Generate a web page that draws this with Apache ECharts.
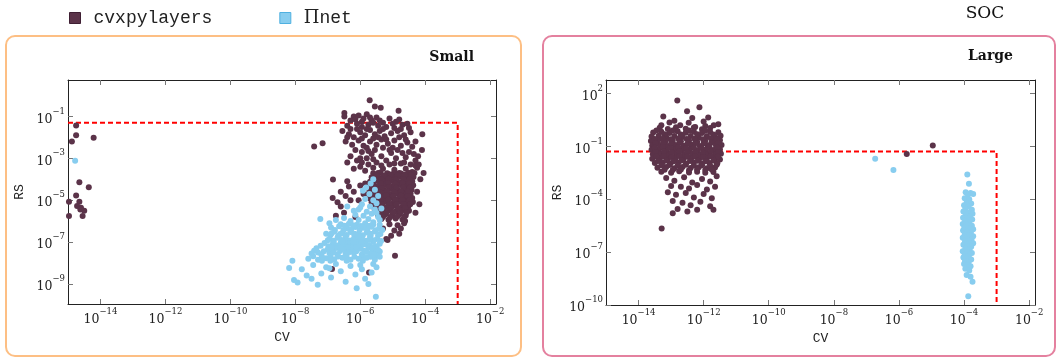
<!DOCTYPE html>
<html><head><meta charset="utf-8">
<script src="https://cdn.jsdelivr.net/npm/echarts@6/dist/echarts.min.js"></script>
<style>html,body{margin:0;padding:0;background:#fff}#c{width:1058px;height:358px}</style>
</head><body><div id="c"></div>
<script>
// All points are [log10(CV), log10(RS)]
const xTickExps = [-14, -12, -10, -8, -6, -4, -2];
const smallYTickExps = [-9, -7, -5, -3, -1];
const largeYTickExps = [-10, -7, -4, -1, 2];
const thresholdCV = 1e-3;
const thresholdRS = 0.05;
const seriesNames = ['cvxpylayers', 'Πnet'];
const panelTitles = ['Small', 'Large'];
const figTitle = 'SOC';

const smallDark = [
[-14.88,-2.2],[-14.75,-1.9],[-14.75,-1.43],[-14.21,-2.02],[-14.65,-4.14],[-14.36,-4.38],[-14.75,-4.78],[-14.97,-5.07],[-14.65,-5.07],[-14.72,-5.28],[-14.6,-5.36],[-14.5,-5.5],[-14.55,-5.76],[-14.97,-5.76],[-14.62,-5.45],
[-7.42,-2.44],[-7.16,-2.28],[-6.84,-4.01],[-4.09,-1.85],[-4.82,-0.73],[-5.37,-0.58],[-5.55,-0.52],[-6.49,-0.84],[-6.49,-1.0],[-5.71,-0.23],[-4.93,-7.65],[-6.87,-8.29],[-5.16,-6.9],[-5.73,-8.45],
[-6.2,-1.0],[-6.05,-0.95],[-5.9,-1.1],[-5.8,-0.9],[-5.65,-1.2],[-5.5,-1.05],[-5.3,-1.3],[-5.1,-1.1],[-4.9,-1.25],[-4.7,-1.4],[-4.55,-1.35],[-6.4,-1.45],[-6.1,-1.35],[-5.95,-1.5],[-5.75,-1.4],[-5.45,-1.45],[-5.2,-1.5],[-4.95,-1.55],[-6.3,-1.2],[-5.6,-1.3],
[-6.55,-1.7],[-6.35,-1.85],[-6.2,-2.0],[-6.0,-1.75],[-5.85,-1.9],[-5.7,-1.65],[-5.55,-1.85],[-5.4,-1.7],[-5.25,-1.95],[-5.05,-1.8],[-4.85,-1.7],[-4.65,-1.9],[-4.45,-1.75],[-6.45,-2.2],[-6.25,-2.35],[-6.05,-2.15],[-5.9,-2.4],[-5.7,-2.2],[-5.5,-2.35],[-5.35,-2.1],[-5.15,-2.3],[-4.95,-2.15],[-4.75,-2.4],[-4.55,-2.25],[-4.4,-2.45],[-6.1,-1.6],[-5.6,-2.05],[-5.0,-2.5],[-5.8,-2.5],[-4.6,-2.1],
[-6.3,-2.9],[-6.1,-3.1],[-5.95,-2.7],[-5.8,-3.0],[-5.65,-2.8],[-5.5,-3.2],[-5.35,-2.9],[-5.2,-3.1],[-5.05,-2.75],[-4.9,-3.0],[-4.75,-3.25],[-4.6,-2.95],[-4.45,-3.3],[-4.3,-3.1],[-6.2,-3.5],[-6.0,-3.4],[-5.85,-3.6],[-5.6,-3.45],[-5.45,-3.7],[-5.3,-3.5],[-5.15,-3.75],[-4.95,-3.55],[-4.8,-3.7],[-4.6,-3.5],[-4.4,-3.65],[-4.25,-3.45],[-5.55,-2.6],[-5.1,-2.6],[-4.5,-2.7],[-6.4,-3.2],
[-6.15,-1.15],[-5.95,-1.25],[-5.7,-1.05],[-5.4,-1.2],[-5.0,-1.35],[-4.8,-1.15],[-6.3,-1.6],[-5.8,-1.6],[-5.3,-1.6],[-4.75,-1.6],[-4.5,-1.55],[-6.4,-2.0],[-5.95,-2.05],[-5.45,-2.0],[-5.2,-2.1],[-4.8,-2.0],[-4.3,-2.2],[-6.15,-2.6],[-5.75,-2.65],[-5.3,-2.5],[-4.85,-2.6],[-4.35,-2.8],[-6.0,-3.0],[-5.6,-3.05],[-5.1,-3.3],[-4.65,-3.2],[-4.3,-3.35],[-5.75,-3.3],[-5.35,-3.35],[-4.95,-3.25],[-4.7,-2.75],[-5.95,-3.2],
[-4.2,-3.3],[-4.15,-4.0],[-4.25,-4.6],[-4.18,-5.2],[-4.3,-5.6],[-4.05,-3.7],[-4.22,-2.9],[-4.1,-2.6],
[-5.6,-3.72],[-5.38,-3.68],[-5.17,-3.71],[-4.95,-3.67],[-4.74,-3.73],[-4.52,-3.69],[-4.33,-3.7],
[-5.65,-3.9],[-5.42,-3.93],[-5.2,-3.88],[-4.98,-3.92],[-4.77,-3.87],[-4.55,-3.91],[-4.36,-3.89],
[-5.7,-4.12],[-5.47,-4.08],[-5.25,-4.11],[-5.03,-4.07],[-4.81,-4.13],[-4.6,-4.09],[-4.4,-4.1],
[-5.68,-4.3],[-5.45,-4.33],[-5.23,-4.28],[-5.0,-4.32],[-4.78,-4.27],[-4.57,-4.31],[-4.37,-4.29],
[-5.72,-4.52],[-5.5,-4.48],[-5.28,-4.51],[-5.05,-4.47],[-4.83,-4.53],[-4.62,-4.49],[-4.42,-4.5],
[-5.75,-4.7],[-5.52,-4.73],[-5.3,-4.68],[-5.08,-4.72],[-4.86,-4.67],[-4.64,-4.71],[-4.45,-4.69],
[-5.7,-4.92],[-5.48,-4.88],[-5.26,-4.91],[-5.04,-4.87],[-4.82,-4.93],[-4.6,-4.89],[-4.4,-4.9],
[-5.65,-5.1],[-5.43,-5.13],[-5.21,-5.08],[-4.99,-5.12],[-4.77,-5.07],[-4.56,-5.11],[-4.38,-5.09],
[-5.6,-5.32],[-5.38,-5.28],[-5.16,-5.31],[-4.94,-5.27],[-4.72,-5.33],[-4.52,-5.29],
[-5.55,-5.5],[-5.33,-5.53],[-5.11,-5.48],[-4.89,-5.52],[-4.68,-5.47],[-4.5,-5.51],
[-5.45,-5.72],[-5.24,-5.68],[-5.02,-5.71],[-4.8,-5.67],[-4.6,-5.73],
[-5.35,-5.9],[-5.13,-5.93],[-4.91,-5.88],[-4.7,-5.92],
[-5.5,-3.8],[-5.28,-3.82],[-5.06,-3.78],[-4.85,-3.81],[-4.63,-3.79],[-4.43,-3.8],
[-5.58,-4.0],[-5.35,-4.02],[-5.13,-3.98],[-4.9,-4.01],[-4.68,-3.99],[-4.48,-4.0],
[-5.6,-4.2],[-5.36,-4.22],[-5.14,-4.18],[-4.92,-4.21],[-4.7,-4.19],[-4.5,-4.2],
[-5.58,-4.4],[-5.34,-4.42],[-5.12,-4.38],[-4.9,-4.41],[-4.68,-4.39],[-4.47,-4.4],
[-5.62,-4.6],[-5.4,-4.62],[-5.18,-4.58],[-4.95,-4.61],[-4.74,-4.59],[-4.53,-4.6],
[-5.64,-4.8],[-5.42,-4.82],[-5.2,-4.78],[-4.97,-4.81],[-4.75,-4.79],[-4.54,-4.8],
[-5.58,-5.0],[-5.36,-5.02],[-5.14,-4.98],[-4.92,-5.01],[-4.7,-4.99],[-4.48,-5.0],
[-5.54,-5.2],[-5.32,-5.22],[-5.1,-5.18],[-4.88,-5.21],[-4.66,-5.19],[-4.46,-5.2],
[-5.5,-5.4],[-5.27,-5.42],[-5.05,-5.38],[-4.83,-5.41],[-4.62,-5.39],
[-5.4,-5.6],[-5.2,-5.62],[-4.98,-5.58],[-4.77,-5.61],[-4.58,-5.59],
[-5.3,-5.8],[-5.08,-5.82],[-4.86,-5.78],[-4.65,-5.81],
[-5.1,-6.15],[-4.85,-6.2],[-4.65,-6.1],[-5.3,-6.35],[-4.95,-6.45],[-4.75,-6.35],[-5.05,-6.7],[-4.8,-6.6],[-5.2,-6.85],[-4.62,-6.0],
[-6.85,-4.9],[-6.6,-5.3],[-6.75,-5.75],[-6.45,-4.8],[-6.3,-5.0],[-6.5,-5.6],[-6.2,-4.6],[-6.35,-4.35],[-6.6,-4.6],[-6.15,-5.8],[-6.7,-5.1],[-6.4,-4.1],[-6.0,-4.3],[-5.9,-4.7],[-6.05,-5.0],[-5.85,-4.2]
];

const smallBlue = [
[-14.78,-3.12],
[-5.6,-4.0],[-5.68,-4.2],[-5.82,-4.4],[-5.92,-4.55],[-5.55,-4.5],[-5.72,-4.7],[-5.45,-4.8],[-5.85,-4.95],[-5.6,-5.0],[-5.95,-5.2],[-5.7,-5.3],[-5.5,-5.15],[-6.05,-5.45],[-5.8,-5.55],[-5.55,-5.45],[-6.15,-5.7],[-5.9,-5.75],[-5.65,-5.65],[-5.45,-5.8],
[-6.4,-5.3],[-6.2,-5.5],[-6.0,-5.35],[-5.75,-5.9],[-5.5,-5.6],[-6.5,-5.85],[-6.3,-6.0],[-6.05,-5.95],[-5.85,-6.1],[-5.6,-6.05],[-5.4,-5.95],[-6.75,-5.95],[-7.23,-5.9],[-6.95,-6.1],[-5.35,-5.4],
[-6.6,-6.15],[-6.35,-6.13],[-6.1,-6.17],[-5.85,-6.2],[-5.6,-6.16],[-5.4,-6.18],
[-6.9,-6.3],[-6.65,-6.25],[-6.4,-6.35],[-6.15,-6.28],[-5.9,-6.32],[-5.65,-6.27],[-5.42,-6.35],
[-6.78,-6.42],[-6.52,-6.44],[-6.28,-6.4],[-6.02,-6.43],[-5.78,-6.41],[-5.52,-6.44],[-5.32,-6.42],
[-7.05,-6.6],[-6.8,-6.5],[-6.55,-6.58],[-6.3,-6.52],[-6.05,-6.6],[-5.8,-6.55],[-5.55,-6.5],[-5.38,-6.62],
[-6.92,-6.68],[-6.68,-6.7],[-6.42,-6.66],[-6.18,-6.69],[-5.92,-6.67],[-5.68,-6.7],[-5.45,-6.68],
[-6.95,-6.85],[-6.7,-6.8],[-6.45,-6.78],[-6.2,-6.85],[-5.95,-6.8],[-5.7,-6.75],[-5.48,-6.85],
[-7.0,-6.92],[-6.82,-6.94],[-6.58,-6.9],[-6.32,-6.93],[-6.08,-6.91],[-5.82,-6.94],[-5.58,-6.92],[-5.36,-6.95],
[-7.1,-7.05],[-6.85,-7.1],[-6.6,-7.02],[-6.35,-7.08],[-6.1,-7.03],[-5.85,-7.1],[-5.6,-7.0],[-5.4,-7.08],
[-7.22,-7.18],[-6.98,-7.2],[-6.72,-7.16],[-6.48,-7.19],[-6.22,-7.17],[-5.98,-7.2],[-5.72,-7.18],[-5.5,-7.2],
[-7.35,-7.3],[-7.0,-7.35],[-6.75,-7.28],[-6.5,-7.33],[-6.25,-7.27],[-6.0,-7.32],[-5.75,-7.28],[-5.5,-7.35],
[-7.42,-7.42],[-7.12,-7.44],[-6.88,-7.4],[-6.62,-7.43],[-6.38,-7.41],[-6.12,-7.44],[-5.88,-7.42],[-5.62,-7.43],[-5.4,-7.45],
[-7.5,-7.55],[-7.2,-7.6],[-6.95,-7.52],[-6.7,-7.58],[-6.45,-7.55],[-6.2,-7.5],[-5.95,-7.6],[-5.7,-7.55],[-5.45,-7.5],
[-7.45,-7.68],[-7.18,-7.7],[-6.92,-7.66],[-6.68,-7.69],[-6.42,-7.67],[-6.18,-7.7],[-5.92,-7.68],[-5.68,-7.7],[-5.5,-7.66],
[-7.6,-7.8],[-7.3,-7.85],[-7.05,-7.78],[-6.8,-7.82],[-6.55,-7.75],[-6.3,-7.85],[-6.05,-7.8],[-5.8,-7.75],[-5.55,-7.85],[-5.4,-7.7],
[-6.48,-6.22],[-6.22,-6.2],[-5.98,-6.24],[-5.72,-6.22],[-6.88,-6.58],[-6.62,-6.62],[-6.18,-6.6],[-5.68,-6.6],[-6.82,-7.0],[-6.48,-7.0],[-6.22,-7.0],[-5.95,-7.0],[-5.72,-6.9],[-6.88,-7.26],[-6.62,-7.26],[-6.38,-7.25],[-6.12,-7.25],[-5.62,-7.26],[-7.3,-7.5],[-6.82,-7.5],[-6.32,-7.48],[-5.82,-7.48],[-5.58,-7.6],[-7.18,-7.9],[-6.92,-7.9],[-6.42,-7.9],[-5.92,-7.9],[-5.45,-7.38],[-6.55,-6.95],[-6.05,-6.72],
[-8.19,-8.24],[-8.09,-7.89],[-8.04,-8.81],[-7.93,-8.93],[-7.8,-8.3],[-7.65,-8.6],[-7.45,-8.1],[-7.31,-9.04],[-7.2,-8.5],[-7.05,-8.2],[-6.9,-8.7],[-6.75,-8.05],[-6.6,-8.4],[-6.45,-8.9],[-6.3,-8.15],[-6.15,-8.55],[-6.11,-9.21],[-5.95,-8.3],[-5.85,-8.75],[-5.75,-9.0],[-5.65,-8.45],[-5.52,-9.61],[-5.5,-8.2],[-7.5,-8.75],[-6.95,-8.25],[-6.0,-8.1],[-5.6,-8.05]
];

const largeDark = [
[-4.96,-0.95],[-5.76,-1.43],
[-12.81,1.6],[-12.13,1.22],[-13.24,0.69],[-12.51,0.99],[-11.86,0.63],[-12.46,0.34],[-12.72,0.19],[-12.26,0.09],[-11.69,0.19],[-13.05,0.35],[-12.9,0.45],[-12.0,0.4],[-12.35,0.6],[-11.55,0.25],[-13.3,0.2],[-11.95,0.15],
[-13.35,0.05],[-13.1,-0.02],[-12.85,0.08],[-12.55,0.0],[-12.3,0.06],[-12.05,-0.03],[-11.8,0.04],
[-13.55,-0.22],[-13.3,-0.18],[-13.05,-0.25],[-12.8,-0.15],[-12.55,-0.23],[-12.3,-0.17],[-12.05,-0.24],[-11.8,-0.19],[-11.55,-0.21],
[-13.6,-0.45],[-13.38,-0.4],[-13.15,-0.48],[-12.9,-0.42],[-12.65,-0.47],[-12.4,-0.41],[-12.15,-0.49],[-11.9,-0.43],[-11.65,-0.46],[-11.48,-0.4],
[-13.62,-0.7],[-13.4,-0.66],[-13.18,-0.73],[-12.95,-0.68],[-12.7,-0.72],[-12.45,-0.67],[-12.2,-0.74],[-11.95,-0.69],[-11.7,-0.71],[-11.5,-0.66],
[-13.58,-0.95],[-13.35,-0.92],[-13.12,-0.98],[-12.88,-0.93],[-12.62,-0.97],[-12.38,-0.91],[-12.12,-0.99],[-11.88,-0.94],[-11.62,-0.96],[-11.45,-0.92],
[-13.6,-1.2],[-13.37,-1.17],[-13.14,-1.23],[-12.9,-1.18],[-12.66,-1.22],[-12.42,-1.16],[-12.18,-1.24],[-11.94,-1.19],[-11.7,-1.21],[-11.5,-1.17],
[-13.56,-1.45],[-13.32,-1.42],[-13.08,-1.48],[-12.84,-1.43],[-12.6,-1.47],[-12.36,-1.41],[-12.12,-1.49],[-11.88,-1.44],[-11.64,-1.46],[-11.47,-1.42],
[-13.58,-1.7],[-13.34,-1.67],[-13.1,-1.73],[-12.86,-1.68],[-12.62,-1.72],[-12.38,-1.66],[-12.14,-1.74],[-11.9,-1.69],[-11.66,-1.71],[-11.5,-1.75],
[-13.5,-1.95],[-13.26,-1.92],[-13.02,-1.98],[-12.78,-1.93],[-12.54,-1.97],[-12.3,-1.91],[-12.06,-1.99],[-11.82,-1.94],[-11.58,-1.96],
[-13.42,-2.22],[-13.15,-2.18],[-12.9,-2.24],[-12.65,-2.17],[-12.4,-2.23],[-12.15,-2.19],[-11.9,-2.25],[-11.65,-2.2],
[-13.3,-2.45],[-13.0,-2.5],[-12.75,-2.42],[-12.45,-2.48],[-12.2,-2.44],[-11.95,-2.5],[-11.7,-2.46],
[-13.45,-0.1],[-13.2,-0.32],[-12.95,-0.1],[-12.7,-0.33],[-12.45,-0.1],[-12.2,-0.31],[-11.95,-0.12],[-11.7,-0.33],
[-13.5,-0.58],[-13.25,-0.57],[-13.02,-0.6],[-12.78,-0.56],[-12.52,-0.59],[-12.28,-0.57],[-12.02,-0.6],[-11.78,-0.55],[-11.58,-0.58],
[-13.48,-0.83],[-13.24,-0.81],[-13.0,-0.84],[-12.75,-0.8],[-12.5,-0.85],[-12.26,-0.82],[-12.0,-0.83],[-11.76,-0.8],[-11.55,-0.84],
[-13.5,-1.08],[-13.25,-1.06],[-13.02,-1.1],[-12.78,-1.05],[-12.54,-1.09],[-12.3,-1.07],[-12.06,-1.1],[-11.82,-1.05],[-11.58,-1.08],
[-13.47,-1.33],[-13.22,-1.31],[-12.98,-1.35],[-12.74,-1.3],[-12.5,-1.34],[-12.26,-1.32],[-12.02,-1.35],[-11.78,-1.3],[-11.56,-1.33],
[-13.46,-1.58],[-13.22,-1.56],[-12.98,-1.6],[-12.74,-1.55],[-12.5,-1.59],[-12.26,-1.57],[-12.02,-1.6],[-11.78,-1.56],[-11.56,-1.58],
[-13.4,-1.83],[-13.15,-1.81],[-12.92,-1.85],[-12.68,-1.8],[-12.42,-1.84],[-12.18,-1.82],[-11.95,-1.85],[-11.7,-1.81],
[-13.3,-2.08],[-13.05,-2.06],[-12.8,-2.1],[-12.55,-2.05],[-12.3,-2.09],[-12.05,-2.07],[-11.8,-2.1],[-11.6,-2.05],
[-13.2,-2.33],[-12.95,-2.35],[-12.7,-2.31],[-12.45,-2.36],[-12.2,-2.32],[-11.95,-2.35],[-11.75,-2.32],
[-13.15,-2.8],[-12.9,-2.95],[-12.6,-2.75],[-12.35,-3.05],[-12.05,-2.85],[-11.8,-3.0],[-11.6,-2.7],[-13.0,-3.25],[-12.7,-3.3],[-12.45,-3.4],[-12.2,-3.2],[-11.9,-3.45],[-11.65,-3.3],[-13.1,-3.6],[-12.85,-3.75],[-12.55,-3.65],[-12.3,-3.9],[-12.0,-3.7],[-11.75,-3.95],[-12.95,-4.1],[-12.65,-4.2],[-12.4,-4.35],[-12.1,-4.15],[-11.8,-4.4],[-12.8,-4.55],[-12.5,-4.7],[-12.2,-4.6],[-11.7,-4.6],[-12.95,-4.8],[-13.29,-5.66]
];

const largeBlue = [
[-6.73,-1.71],[-6.17,-2.34],
[-3.9,-2.6],[-3.85,-3.12],[-3.95,-3.6],[-3.8,-3.65],[-3.88,-3.75],[-3.72,-3.7],[-3.98,-3.95],[-3.84,-4.0],[-3.92,-4.2],[-3.78,-4.25],[-4.0,-4.35],
[-3.86,-4.42],[-3.96,-4.55],[-3.76,-4.6],[-4.02,-4.7],[-3.88,-4.75],[-3.74,-4.82],[-3.95,-4.9],[-3.82,-4.98],[-4.03,-5.05],[-3.9,-5.1],[-3.75,-5.15],[-3.97,-5.25],[-3.84,-5.3],[-4.04,-5.4],[-3.92,-5.45],[-3.76,-5.5],[-3.99,-5.6],[-3.86,-5.65],[-3.72,-5.7],[-4.03,-5.78],[-3.92,-5.85],[-3.79,-5.9],[-3.98,-6.0],[-3.85,-6.05],[-3.72,-6.1],[-4.04,-6.18],[-3.9,-6.25],[-3.77,-6.3],[-3.97,-6.38],[-3.84,-6.45],[-3.72,-6.5],[-4.02,-6.58],[-3.9,-6.65],[-3.78,-6.7],[-3.96,-6.8],[-3.83,-6.85],[-4.04,-6.95],[-3.9,-7.0],[-3.76,-7.05],[-3.98,-7.15],[-3.85,-7.2],[-4.02,-7.3],[-3.9,-7.38],[-3.78,-7.42],[-3.97,-7.5],[-3.86,-7.58],[-4.0,-7.68],[-3.9,-7.75],[-3.8,-7.8],
[-3.96,-7.95],[-3.84,-8.05],[-3.92,-8.3],[-3.8,-8.4],[-3.74,-8.68],[-3.87,-9.5]
];

const DARK = '#5B3349', BLUE = '#88CDEF', RED = '#FF0000';
const serif = 'DejaVu Serif', mono = 'Liberation Mono';

function expLabel(v) {
  const s = (v < 0 ? '\u2212' : '') + Math.abs(v);
  return '{b|10}{s|' + s + '}';
}
const labelRich = {
  b: { fontFamily: serif, fontSize: 12.5, color: '#222', padding: [6, 0, 0, 0], verticalAlign: 'bottom' },
  s: { fontFamily: serif, fontSize: 8.5, color: '#222', verticalAlign: 'top' }
};
const tickStyle = { show: true, inside: true, length: 5, lineStyle: { color: '#777', width: 1 } };
const lineStyle = { show: true, onZero: false, lineStyle: { color: '#222', width: 1 } };

function xAxes(gi, xmin, xmax) {
  return [
    { gridIndex: gi, type: 'value', min: xmin, max: xmax, position: 'bottom',
      axisLine: lineStyle, axisTick: Object.assign({ customValues: xTickExps }, tickStyle),
      axisLabel: { customValues: xTickExps, formatter: expLabel, rich: labelRich, margin: 3 },
      splitLine: { show: false },
      name: 'CV', nameLocation: 'middle', nameGap: 25,
      nameTextStyle: { fontFamily: mono, fontSize: 13, color: '#222' } },
    { gridIndex: gi, type: 'value', min: xmin, max: xmax, position: 'top',
      axisLine: lineStyle, axisTick: Object.assign({ customValues: xTickExps }, tickStyle),
      axisLabel: { show: false }, splitLine: { show: false } }
  ];
}
function yAxes(gi, ymin, ymax, ticks) {
  return [
    { gridIndex: gi, type: 'value', min: ymin, max: ymax, position: 'left',
      axisLine: lineStyle, axisTick: Object.assign({ customValues: ticks }, tickStyle),
      axisLabel: { customValues: ticks, formatter: expLabel, rich: labelRich, margin: 3 },
      splitLine: { show: false },
      name: 'RS', nameLocation: 'middle', nameGap: 42,
      nameTextStyle: { fontFamily: mono, fontSize: 13, color: '#222' } },
    { gridIndex: gi, type: 'value', min: ymin, max: ymax, position: 'right',
      axisLine: lineStyle, axisTick: Object.assign({ customValues: ticks }, tickStyle),
      axisLabel: { show: false }, splitLine: { show: false } }
  ];
}

const ranges = [
  { x: [-15, -1.82], y: [-9.96, 0.74], yt: smallYTickExps, dark: smallDark, blue: smallBlue },
  { x: [-15, -1.82], y: [-10, 2.76], yt: largeYTickExps, dark: largeDark, blue: largeBlue }
];
const tCV = Math.log10(thresholdCV), tRS = Math.log10(thresholdRS);

const xAxis = [], yAxis = [], series = [];
ranges.forEach((r, gi) => {
  xAxis.push(...xAxes(gi, r.x[0], r.x[1]));
  yAxis.push(...yAxes(gi, r.y[0], r.y[1], r.yt));
  const xi = gi * 2, yi = gi * 2;
  series.push({ type: 'line', xAxisIndex: xi, yAxisIndex: yi, z: 1, silent: true,
    data: [[r.x[0], tRS], [tCV, tRS], [tCV, r.y[0]]], symbol: 'none',
    lineStyle: { color: RED, width: 2, type: [5, 3] } });
  series.push({ type: 'scatter', name: seriesNames[0], xAxisIndex: xi, yAxisIndex: yi, z: 2,
    data: r.dark, symbolSize: 6, itemStyle: { color: DARK, opacity: 1 } });
  series.push({ type: 'scatter', name: seriesNames[1], xAxisIndex: xi, yAxisIndex: yi, z: 3,
    data: r.blue, symbolSize: 6, itemStyle: { color: BLUE, opacity: 1 } });
});

const chart = echarts.init(document.getElementById('c'), null, { renderer: 'canvas' });
chart.setOption({
  animation: false,
  backgroundColor: '#fff',
  grid: [
    { left: 68, top: 80, width: 428, height: 224 },
    { left: 606, top: 80, width: 429, height: 225 }
  ],
  xAxis, yAxis, series,
  legend: {
    left: 64, top: 4, icon: 'rect', itemWidth: 11, itemHeight: 11, itemGap: 67,
    data: [
      { name: seriesNames[0], itemStyle: { color: DARK, borderColor: '#3f1f33', borderWidth: 1 } },
      { name: seriesNames[1], itemStyle: { color: BLUE, borderColor: '#4fb0e0', borderWidth: 1 } }
    ],
    formatter: n => n === seriesNames[1] ? '{p|\u03A0}{m|net}' : '{m|' + n + '}',
    textStyle: { padding: [0, 0, 0, 8], rich: {
      m: { fontFamily: mono, fontSize: 18, color: '#222' },
      p: { fontFamily: serif, fontSize: 18, color: '#222' } } },
    selectedMode: false
  },
  graphic: [
    { type: 'rect', shape: { x: 6, y: 36, width: 515, height: 320, r: 9 }, z: 0,
      style: { fill: 'none', stroke: '#FDBF84', lineWidth: 2 } },
    { type: 'rect', shape: { x: 543, y: 36, width: 512, height: 320, r: 9 }, z: 0,
      style: { fill: 'none', stroke: '#E4819F', lineWidth: 2 } },
    { type: 'text', x: 474, y: 57, style: { text: panelTitles[0], font: 'bold 14px "DejaVu Serif"', fill: '#111', textAlign: 'right', textVerticalAlign: 'middle' } },
    { type: 'text', x: 1013, y: 56, style: { text: panelTitles[1], font: 'bold 14px "DejaVu Serif"', fill: '#111', textAlign: 'right', textVerticalAlign: 'middle' } },
    { type: 'text', x: 985, y: 14, style: { text: figTitle, font: '17px "DejaVu Serif"', fill: '#111', textAlign: 'center', textVerticalAlign: 'middle' } }
  ]
});
</script></body></html>
